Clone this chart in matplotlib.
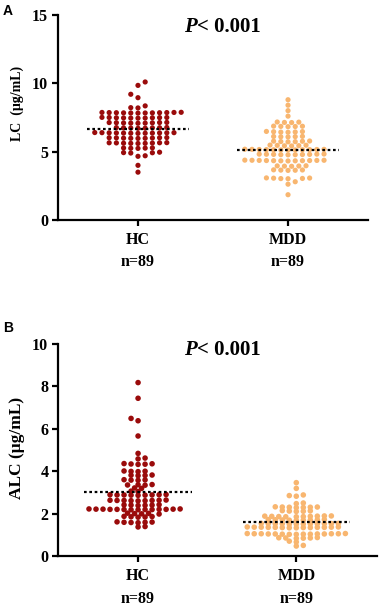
import numpy as np
import matplotlib
matplotlib.use("Agg")
import matplotlib.pyplot as plt
from matplotlib.transforms import blended_transform_factory

# valores (89 por grupo)
grupos = ["HC", "MDD"]
n_txt = ["n=89", "n=89"]

hc_lc = [10.1, 9.85, 9.2, 8.95, 8.35, 8.2, 8.22,
         7.87, 7.83, 7.86, 7.84, 7.88, 7.82, 7.85, 7.87, 7.83, 7.86, 7.85, 7.84,
         7.50, 7.46, 7.49, 7.47, 7.51, 7.45, 7.48, 7.50, 7.46, 7.48,
         7.13, 7.09, 7.12, 7.10, 7.14, 7.08, 7.11, 7.13, 7.09,
         6.76, 6.72, 6.75, 6.73, 6.77, 6.71, 6.74, 6.74,
         6.39, 6.35, 6.38, 6.36, 6.40, 6.34, 6.37, 6.39, 6.35, 6.38, 6.36, 6.37,
         6.02, 5.98, 6.01, 5.99, 6.03, 5.97, 6.00, 6.02, 5.98,
         5.65, 5.61, 5.64, 5.62, 5.66, 5.60, 5.63, 5.65, 5.61,
         5.28, 5.24, 5.27, 5.25, 5.26,
         4.92, 4.90, 4.96, 4.93,
         4.66, 4.70,
         4.0, 3.5]

mdd_lc = [8.8, 8.4, 8.0, 7.6,
          7.17, 7.13, 7.16, 7.14,
          6.87, 6.83, 6.86, 6.84, 6.85,
          6.47, 6.43, 6.46, 6.44, 6.48, 6.42,
          6.12, 6.08, 6.11, 6.09, 6.10,
          5.77, 5.73, 5.76, 5.74, 5.78, 5.72,
          5.47, 5.43, 5.46, 5.44, 5.48, 5.42,
          5.17, 5.13, 5.16, 5.14, 5.18, 5.12, 5.15, 5.17, 5.13, 5.16, 5.14, 5.15,
          4.82, 4.78, 4.81, 4.79, 4.83, 4.77, 4.80, 4.82, 4.78, 4.80,
          4.37, 4.33, 4.36, 4.34, 4.38, 4.32, 4.35, 4.37, 4.33, 4.36, 4.34, 4.35,
          3.97, 3.93, 3.96, 3.94, 3.95,
          3.67, 3.63, 3.66, 3.64, 3.65,
          3.07, 3.03, 3.06, 3.04, 3.08, 3.02,
          2.8, 2.62, 1.85]

hc_alc = [8.18, 7.44, 6.49, 6.38, 5.66, 4.84, 4.62, 4.58,
          4.35, 4.33, 4.34, 4.36, 4.32,
          4.01, 3.99, 4.00, 3.98,
          3.81, 3.79, 3.80, 3.82,
          3.59, 3.57, 3.58, 3.60,
          3.36, 3.34, 3.35, 3.37,
          3.21, 3.19,
          3.06, 3.04,
          2.89, 2.87, 2.88, 2.90, 2.86, 2.89, 2.87, 2.88, 2.88,
          2.63, 2.61, 2.62, 2.64, 2.60, 2.63, 2.61, 2.62, 2.62,
          2.41, 2.39, 2.40, 2.42, 2.38, 2.40,
          2.21, 2.19, 2.20, 2.22, 2.18, 2.21, 2.19, 2.20, 2.22, 2.18, 2.21, 2.19, 2.20, 2.20,
          2.01, 1.99, 2.00, 2.02, 1.98,
          1.86, 1.84, 1.85, 1.87, 1.83,
          1.60, 1.58, 1.59, 1.61, 1.57, 1.59,
          1.39, 1.37]

mdd_alc = [3.46, 3.19, 2.88, 2.85, 2.82, 2.50, 2.47,
           2.31, 2.29, 2.30, 2.32, 2.28, 2.30, 2.31,
           2.13, 2.11, 2.12, 2.14, 2.10,
           1.88, 1.86, 1.87, 1.89, 1.85, 1.88, 1.86, 1.87, 1.89, 1.85,
           1.71, 1.69, 1.70, 1.72, 1.68, 1.71, 1.69, 1.70, 1.72,
           1.53, 1.51, 1.52, 1.54, 1.50, 1.53, 1.51, 1.52, 1.54, 1.50, 1.52, 1.53,
           1.36, 1.34, 1.35, 1.37, 1.33, 1.36, 1.34, 1.35, 1.37, 1.33, 1.36, 1.34, 1.35, 1.35,
           1.05, 1.03, 1.04, 1.06, 1.02, 1.05, 1.03, 1.04, 1.06, 1.02, 1.05, 1.03, 1.04, 1.04, 1.05,
           0.86, 0.84, 0.85, 0.87, 0.83, 0.85,
           0.70, 0.66, 0.50, 0.47]

c_hc = "#9a0b0b"
c_mdd = "#f8b670"
serif = "Liberation Serif"


# Swarm sencillo: cada punto va al hueco libre mas cercano al centro.
# Se trabaja en pixeles; el choque se mide con una elipse (ax, ay)
def enjambre(vals, centro, py, px, ax_, ay_):
    v = np.sort(np.array(vals))
    puestos = []
    xs = []
    paso = ax_ / 2
    lado = 1
    for y in v:
        yp = y * py
        cand = [0.0]
        for k in range(1, 40):
            cand += [lado * k * paso, -lado * k * paso]
        for c in cand:
            ok = True
            for (xq, yq) in puestos:
                if ((c - xq) / ax_) ** 2 + ((yp - yq) / ay_) ** 2 < 0.97:
                    ok = False
                    break
            if ok:
                break
        puestos.append((c, yp))
        xs.append(centro + c / px)
        if c != 0:
            lado = -lado
    return np.array(xs), v


def panel(ax, datos, ylim, yticks, ylab, ysize, py, px, choque, ms, xlim, lab_xy):
    for i, (vals, col) in enumerate(zip(datos, [c_hc, c_mdd])):
        x, y = enjambre(vals, i, py, px, *choque)
        ax.scatter(x, y, s=ms, color=col, edgecolors="none", zorder=2)
        m = np.mean(vals)
        ax.plot([i - 0.34, i + 0.34], [m, m], color="black", lw=1.6,
                ls=(0, (1.2, 1.2)), zorder=3)
    ax.set_xlim(*xlim)
    ax.set_ylim(*ylim)
    ax.set_yticks(yticks)
    ax.set_xticks([0, 1])
    ax.set_xticklabels(grupos)
    for s in ["top", "right"]:
        ax.spines[s].set_visible(False)
    for s in ["left", "bottom"]:
        ax.spines[s].set_linewidth(1.6)
    ax.tick_params(width=1.6, length=4, labelsize=11.5, pad=3)
    ax.tick_params(axis="x", pad=5)
    for t in ax.get_xticklabels() + ax.get_yticklabels():
        t.set_fontfamily(serif)
        t.set_fontweight("bold")
    ax.set_ylabel(ylab, fontfamily=serif, fontweight="bold", fontsize=ysize)
    ax.yaxis.set_label_coords(*lab_xy)
    tr = blended_transform_factory(ax.transData, ax.transAxes)
    for i, t in enumerate(n_txt):
        ax.text(i, -0.205, t, transform=tr, ha="center", va="center",
                fontfamily=serif, fontweight="bold", fontsize=11.5)


def titulo(ax, x, y):
    ax.text(x, y, "P", transform=ax.transAxes, ha="right", va="center",
            fontfamily=serif, fontweight="bold", fontstyle="italic", fontsize=15)
    ax.text(x, y, "< 0.001", transform=ax.transAxes, ha="left", va="center",
            fontfamily=serif, fontweight="bold", fontsize=15)


fig = plt.figure(figsize=(3.83, 6.15), dpi=100)

axA = fig.add_axes([58 / 383, 1 - 220 / 615, 310 / 383, 205 / 615])
panel(axA, [hc_lc, mdd_lc], (0, 15), [0, 5, 10, 15], "LC  (μg/mL)", 10,
      205 / 15, 150, (7.2, 4.2), 14, (-0.533, 1.533), (-0.11, 0.57))
titulo(axA, 0.448, 0.94)

axB = fig.add_axes([58 / 383, 1 - 556 / 615, 319 / 383, 212 / 615])
panel(axB, [hc_alc, mdd_alc], (0, 10), [0, 2, 4, 6, 8, 10], "ALC (μg/mL)", 12.5,
      212 / 10, 158, (7.0, 3.6), 16, (-0.506, 1.51), (-0.103, 0.51))
titulo(axB, 0.436, 0.97)

fig.text(3 / 383, 1 - 11 / 615, "A", fontfamily="Liberation Sans",
         fontweight="bold", fontsize=10, ha="left", va="center")
fig.text(3 / 383, 1 - 328 / 615, "B", fontfamily="Liberation Sans",
         fontweight="bold", fontsize=10, ha="left", va="center")

fig.savefig("out.png", dpi=100)
